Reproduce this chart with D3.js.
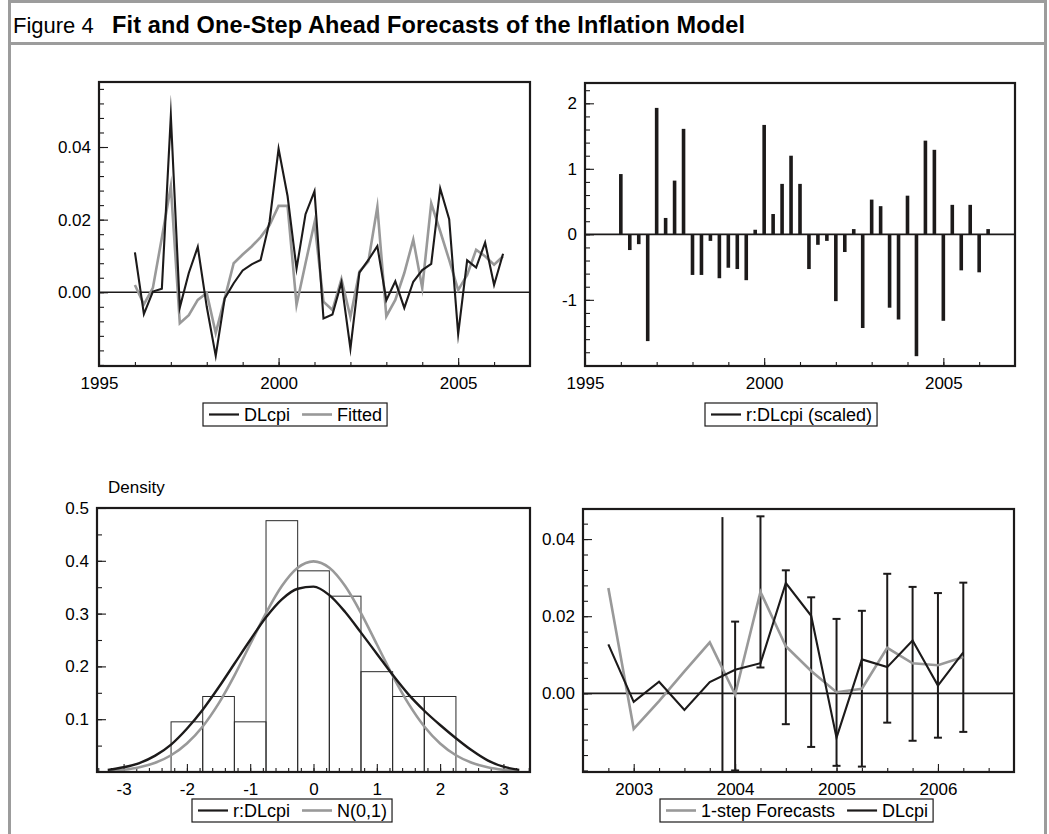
<!DOCTYPE html>
<html><head><meta charset="utf-8">
<script src="https://cdn.jsdelivr.net/npm/d3@7"></script>
<style>
body{margin:0;background:#fff;}
svg{display:block;font-family:"Liberation Sans",Arial,sans-serif;}
</style></head><body>
<svg id="c" width="1049" height="834"></svg>
<script>
// ---------------- DATA ----------------
const dates = [1996.00,1996.25,1996.50,1996.75,1997.00,1997.25,1997.50,1997.75,1998.00,1998.25,1998.50,1998.75,
  1999.00,1999.25,1999.50,1999.75,2000.00,2000.25,2000.50,2000.75,2001.00,2001.25,2001.50,2001.75,
  2002.00,2002.25,2002.50,2002.75,2003.00,2003.25,2003.50,2003.75,2004.00,2004.25,2004.50,2004.75,
  2005.00,2005.25,2005.50,2005.75,2006.00,2006.25];
const dlcpi = [0.0110,-0.0060,0.0002,0.0010,0.0486,-0.0042,0.0053,0.0125,-0.0040,-0.0175,-0.0017,0.0025,
  0.0060,0.0077,0.0089,0.0195,0.0395,0.0265,0.0065,0.0215,0.0278,-0.0072,-0.0061,0.0027,
  -0.0155,0.0054,0.0089,0.0127,-0.0022,0.0030,-0.0043,0.0029,0.0061,0.0078,0.0286,0.0201,
  -0.0115,0.0088,0.0068,0.0137,0.0020,0.0106];
const fitted = [0.0020,-0.0033,0.0012,0.0150,0.0292,-0.0085,-0.0063,-0.0021,-0.0002,-0.0112,-0.0017,0.0080,
  0.0104,0.0126,0.0152,0.0185,0.0238,0.0238,-0.0035,0.0080,0.0192,-0.0026,-0.0049,0.0036,
  -0.0068,0.0057,0.0085,0.0235,-0.0066,-0.0021,0.0053,0.0145,0.0012,0.0245,0.0168,0.0089,
  0.0006,0.0048,0.0117,0.0099,0.0076,0.0099];
const residScaled = [0.92,-0.24,-0.15,-1.63,1.93,0.25,0.82,1.61,-0.62,-0.62,-0.10,-0.67,
  -0.51,-0.53,-0.70,0.07,1.67,0.31,0.77,1.20,0.77,-0.53,-0.16,-0.10,
  -1.02,-0.27,0.08,-1.43,0.53,0.43,-1.12,-1.30,0.59,-1.86,1.43,1.29,
  -1.32,0.45,-0.55,0.45,-0.58,0.08];

// histogram of scaled residuals
const histEdges = [-2.25,-1.75,-1.25,-0.75,-0.25,0.25,0.75,1.25,1.75,2.25];
const histDensity = [0.095,0.143,0.095,0.476,0.381,0.333,0.190,0.143,0.143];
const densX = [-3.25,-3.0,-2.75,-2.5,-2.25,-2.0,-1.75,-1.5,-1.25,-1.0,-0.75,-0.5,-0.25,0,
  0.25,0.5,0.75,1.0,1.25,1.5,1.75,2.0,2.25,2.5,2.75,3.0,3.25];
const densResid = [0.004,0.009,0.017,0.031,0.052,0.082,0.118,0.160,0.205,0.250,0.293,0.327,0.347,0.351,
  0.335,0.303,0.264,0.224,0.184,0.147,0.116,0.089,0.064,0.041,0.022,0.010,0.004];
const densNormal = [0.002,0.0044,0.0091,0.0175,0.0317,0.054,0.0863,0.1295,0.1826,0.242,0.3011,0.3521,0.3867,0.3989,
  0.3867,0.3521,0.3011,0.242,0.1826,0.1295,0.0863,0.054,0.0317,0.0175,0.0091,0.0044,0.002];

// one-step forecasts
const fcDates = [2002.75,2003.00,2003.25,2003.50,2003.75,2004.00,2004.25,2004.50,2004.75,2005.00,2005.25,2005.50,2005.75,2006.00,2006.25];
const fcValues = [0.0273,-0.0092,-0.0020,0.0057,0.0132,-0.0003,0.0263,0.0122,0.0058,0.0003,0.0012,0.0118,0.0078,0.0073,0.0094];
const ebDates = [2004.00,2004.25,2004.50,2004.75,2005.00,2005.25,2005.50,2005.75,2006.00,2006.25];
const ebLow  = [-0.0200,0.0067,-0.0080,-0.0139,-0.0188,-0.0190,-0.0076,-0.0123,-0.0115,-0.0100];
const ebHigh = [0.0186,0.0459,0.0319,0.0249,0.0193,0.0214,0.0310,0.0276,0.0260,0.0287];
const markDate = [2003.875];
const markTop = [0.0457];

// tick labels
const tsYTicks = [0, 0.02, 0.04], tsYLabels = ["0.00","0.02","0.04"];
const yearTicks = [1995, 2000, 2005], yearLabels = ["1995","2000","2005"];
const resYTicks = [-1, 0, 1, 2], resYLabels = ["-1","0","1","2"];
const denYTicks = [0.1,0.2,0.3,0.4,0.5], denYLabels = ["0.1","0.2","0.3","0.4","0.5"];
const denXTicks = [-3,-2,-1,0,1,2,3], denXLabels = ["-3","-2","-1","0","1","2","3"];
const fcXTicks = [2003,2004,2005,2006], fcXLabels = ["2003","2004","2005","2006"];

// ---------------- DRAW ----------------
const svg = d3.select('#c');
const BLACK = '#1c1a1a', GRAY = '#999999', BORDER = '#9c9c9c';
const FS = 17, LFS = 18;

// outer figure frame
svg.append('rect').attr('x',8).attr('y',0).attr('width',1039).attr('height',3).attr('fill',BORDER);
svg.append('rect').attr('x',8).attr('y',42).attr('width',1039).attr('height',3).attr('fill',BORDER);
svg.append('rect').attr('x',8).attr('y',0).attr('width',3).attr('height',834).attr('fill',BORDER);
svg.append('rect').attr('x',1044).attr('y',0).attr('width',3).attr('height',834).attr('fill',BORDER);

// title
const title = svg.append('g');
title.append('text').attr('x',13).attr('y',33).attr('font-size',22).attr('fill','#000').text('Figure 4');
title.append('text').attr('x',112).attr('y',33).attr('font-size',23.5).attr('font-weight','bold')
  .attr('textLength',633).attr('lengthAdjust','spacing').attr('fill','#000')
  .text('Fit and One-Step Ahead Forecasts of the Inflation Model');

function panel(p){
  const g = svg.append('g');
  const x = d3.scaleLinear().domain(p.xd).range([p.x0,p.x1]);
  const y = d3.scaleLinear().domain(p.yd).range([p.y1,p.y0]);
  return {g,x,y};
}
function axes(P, p, o){
  const {g,x,y} = P;
  const style = sel => { sel.select('.domain').remove(); sel.attr('font-size',FS).attr('font-family','"Liberation Sans",Arial,sans-serif');
    sel.selectAll('line').attr('stroke',BLACK).attr('stroke-width',1.1); sel.selectAll('text').attr('fill','#000'); };
  g.append('g').attr('transform',`translate(${p.x0},0)`)
    .call(d3.axisLeft(y).tickValues(o.yMinor).tickSize(-5).tickFormat('')).call(style);
  g.append('g').attr('transform',`translate(${p.x0},0)`)
    .call(d3.axisLeft(y).tickValues(o.yMajor).tickSize(-9).tickPadding(8).tickFormat((d,i)=>o.yLabels[i])).call(style);
  g.append('g').attr('transform',`translate(0,${p.y1})`)
    .call(d3.axisBottom(x).tickValues(o.xMinor).tickSize(-4).tickFormat('')).call(style);
  g.append('g').attr('transform',`translate(0,${p.y1})`)
    .call(d3.axisBottom(x).tickValues(o.xMajor).tickSize(-8).tickPadding(11).tickFormat((d,i)=>o.xLabels[i])).call(style);
}
function frame(P,p){
  P.g.append('rect').attr('x',p.x0).attr('y',p.y0).attr('width',p.x1-p.x0).attr('height',p.y1-p.y0)
    .attr('fill','none').attr('stroke',BLACK).attr('stroke-width',2.2);
}
function legend(x0, y0, items){
  const g = svg.append('g');
  const box = g.append('rect').attr('x',x0).attr('y',y0).attr('height',23).attr('fill','#fff')
    .attr('stroke',BLACK).attr('stroke-width',1.2);
  let cx = x0 + 6;
  items.forEach((it,i)=>{
    g.append('line').attr('x1',cx).attr('x2',cx+30).attr('y1',y0+11.5).attr('y2',y0+11.5)
      .attr('stroke',it.color).attr('stroke-width',it.w);
    cx += 35;
    const t = g.append('text').attr('x',cx).attr('y',y0+18).attr('font-size',LFS).attr('fill','#000').text(it.label);
    cx += t.node().getComputedTextLength();
    if(i < items.length-1) cx += 12;
  });
  box.attr('width', cx + 5 - x0);
}

// ---- Panel 1: DLcpi & Fitted
{
  const p = {x0:99,x1:530,y0:82,y1:366,xd:[1995,2007],yd:[-0.0203,0.0579]};
  const P = panel(p);
  axes(P,p,{yMajor:tsYTicks,yLabels:tsYLabels,yMinor:d3.range(-0.02,0.0581,0.004),
    xMajor:yearTicks,xLabels:yearLabels,xMinor:d3.range(1996,2007,1)});
  P.g.append('line').attr('x1',p.x0).attr('x2',p.x1).attr('y1',P.y(0)).attr('y2',P.y(0))
    .attr('stroke',BLACK).attr('stroke-width',1.6);
  const line = v => d3.line().x((d,i)=>P.x(dates[i])).y(d=>P.y(d))(v);
  P.g.append('path').attr('d',line(fitted)).attr('fill','none').attr('stroke',GRAY)
    .attr('stroke-width',2.6).attr('stroke-miterlimit',30);
  P.g.append('path').attr('d',line(dlcpi)).attr('fill','none').attr('stroke',BLACK)
    .attr('stroke-width',2.1).attr('stroke-miterlimit',30);
  frame(P,p);
  legend(203,403,[{label:'DLcpi',color:BLACK,w:2.2},{label:'Fitted',color:GRAY,w:2.6}]);
}

// ---- Panel 2: scaled residuals
{
  const p = {x0:585,x1:1015,y0:83,y1:366,xd:[1995,2007],yd:[-2.01,2.31]};
  const P = panel(p);
  axes(P,p,{yMajor:resYTicks,yLabels:resYLabels,yMinor:d3.range(-2,2.31,0.2),
    xMajor:yearTicks,xLabels:yearLabels,xMinor:d3.range(1996,2007,1)});
  P.g.selectAll('rect.bar').data(residScaled).join('rect').attr('class','bar')
    .attr('x',(d,i)=>P.x(dates[i])-1.8).attr('width',3.6)
    .attr('y',d=>Math.min(P.y(d),P.y(0))).attr('height',d=>Math.abs(P.y(d)-P.y(0)))
    .attr('fill',BLACK);
  P.g.append('line').attr('x1',p.x0).attr('x2',p.x1).attr('y1',P.y(0)).attr('y2',P.y(0))
    .attr('stroke',BLACK).attr('stroke-width',1.6);
  frame(P,p);
  legend(705,403,[{label:'r:DLcpi (scaled)',color:BLACK,w:2.2}]);
}

// ---- Panel 3: density
{
  const p = {x0:97,x1:530,y0:508,y1:772,xd:[-3.42,3.42],yd:[0,0.5]};
  const P = panel(p);
  axes(P,p,{yMajor:denYTicks,yLabels:denYLabels,yMinor:d3.range(0.05,0.5,0.05),
    xMajor:denXTicks,xLabels:denXLabels,xMinor:d3.range(-3.4,3.41,0.2)});
  P.g.selectAll('rect.hb').data(histDensity).join('rect').attr('class','hb')
    .attr('x',(d,i)=>P.x(histEdges[i])).attr('width',(d,i)=>P.x(histEdges[i+1])-P.x(histEdges[i]))
    .attr('y',d=>P.y(d)).attr('height',d=>P.y(0)-P.y(d))
    .attr('fill','none').attr('stroke','#2a2a2a').attr('stroke-width',1);
  const curve = v => d3.line().curve(d3.curveMonotoneX).x((d,i)=>P.x(densX[i])).y(d=>P.y(d))(v);
  P.g.append('path').attr('d',curve(densNormal)).attr('fill','none').attr('stroke',GRAY).attr('stroke-width',2.6);
  P.g.append('path').attr('d',curve(densResid)).attr('fill','none').attr('stroke',BLACK).attr('stroke-width',2.4);
  frame(P,p);
  svg.append('text').attr('x',108).attr('y',493).attr('font-size',FS).attr('fill','#000').text('Density');
  legend(192,799,[{label:'r:DLcpi',color:BLACK,w:2.2},{label:'N(0,1)',color:GRAY,w:2.6}]);
}

// ---- Panel 4: one-step forecasts
{
  const p = {x0:583,x1:1014,y0:509,y1:772,xd:[2002.5,2006.75],yd:[-0.0204,0.0478]};
  const P = panel(p);
  axes(P,p,{yMajor:tsYTicks,yLabels:tsYLabels,yMinor:d3.range(-0.02,0.0479,0.004),
    xMajor:fcXTicks,xLabels:fcXLabels,xMinor:d3.range(2002.75,2006.74,0.25)});
  P.g.append('line').attr('x1',p.x0).attr('x2',p.x1).attr('y1',P.y(0)).attr('y2',P.y(0))
    .attr('stroke',BLACK).attr('stroke-width',1.6);
  // marker line
  P.g.selectAll('line.mk').data(markDate).join('line').attr('class','mk')
    .attr('x1',d=>P.x(d)).attr('x2',d=>P.x(d)).attr('y1',p.y1).attr('y2',(d,i)=>P.y(markTop[i]))
    .attr('stroke',BLACK).attr('stroke-width',2);
  // error bars
  const eb = P.g.selectAll('g.eb').data(ebDates).join('g').attr('class','eb');
  eb.append('line').attr('x1',d=>P.x(d)).attr('x2',d=>P.x(d))
    .attr('y1',(d,i)=>P.y(ebLow[i])).attr('y2',(d,i)=>P.y(ebHigh[i])).attr('stroke',BLACK).attr('stroke-width',2);
  eb.append('line').attr('x1',d=>P.x(d)-4).attr('x2',d=>P.x(d)+4)
    .attr('y1',(d,i)=>P.y(ebLow[i])).attr('y2',(d,i)=>P.y(ebLow[i])).attr('stroke',BLACK).attr('stroke-width',2);
  eb.append('line').attr('x1',d=>P.x(d)-4).attr('x2',d=>P.x(d)+4)
    .attr('y1',(d,i)=>P.y(ebHigh[i])).attr('y2',(d,i)=>P.y(ebHigh[i])).attr('stroke',BLACK).attr('stroke-width',2);
  const line = d3.line().x(d=>P.x(d[0])).y(d=>P.y(d[1]));
  P.g.append('path').attr('d',line(fcDates.map((d,i)=>[d,fcValues[i]]))).attr('fill','none')
    .attr('stroke',GRAY).attr('stroke-width',2.6);
  const act = dates.map((d,i)=>[d,dlcpi[i]]).filter(d=>d[0]>=fcDates[0]);
  P.g.append('path').attr('d',line(act)).attr('fill','none').attr('stroke',BLACK).attr('stroke-width',2.1);
  frame(P,p);
  legend(660,799,[{label:'1-step Forecasts',color:GRAY,w:2.6},{label:'DLcpi',color:BLACK,w:2.2}]);
}
</script>
</body></html>
